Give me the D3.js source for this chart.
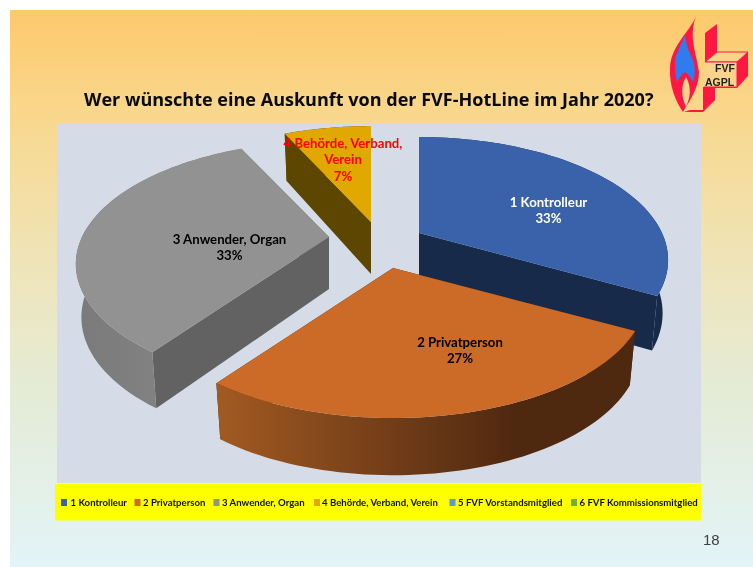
<!DOCTYPE html>
<html>
<head>
<meta charset="utf-8">
<script src="https://cdn.jsdelivr.net/npm/d3@7"></script>
<style>
  html, body { margin: 0; padding: 0; background: #fff; }
  svg { display: block; filter: blur(0.35px); }
</style>
</head>
<body>
<div id="plot"></div>
<script>
var categories = ["1 Kontrolleur", "2 Privatperson", "3 Anwender, Organ", "4 Behörde, Verband, Verein", "5 FVF Vorstandsmitglied", "6 FVF Kommissionsmitglied"];
var values = [33, 27, 33, 7, 0, 0];
var topColors = ["#3a62ab", "#cc6a28", "#929292", "#e0a800", "#5b9bd5", "#70ad47"];
var cutColors = ["#172a4a", "#4f2810", "#626262", "#5c4600", "#2f5d85", "#3f6b26"];
var wallLeft = ["#172a4a", "#a25a22", "#7a7a7a", "#5c4600", "#2f5d85", "#3f6b26"];
var wallRight = ["#172a4a", "#4f2810", "#858585", "#5c4600", "#2f5d85", "#3f6b26"];
var labelColors = ["#ffffff", "#000000", "#000000", "#ff0000"];
var labelLines = [["1 Kontrolleur"], ["2 Privatperson"], ["3 Anwender, Organ"], ["4 Behörde, Verband,", "Verein"]];
// where each exploded slice's tip and label sit on the slide
var tips = [[419, 233], [393, 268], [329, 237], [371, 222]];
var radiiX = [243, 247, 247, 243];
var labelPos = [[548.5, 207], [460, 347], [229.5, 244], [343, 148]];
var legendSwatchX = [61, 134.5, 213.5, 314, 449.5, 571];
var legendTextX = [70.5, 143, 222, 322, 458, 579.5];

var width = 753, height = 567;
var ry = 117, persp = 0.22, depth = 52;

var svg = d3.select("#plot").append("svg")
  .attr("width", width)
  .attr("height", height);

var defs = svg.append("defs");

var bg = defs.append("linearGradient").attr("id", "slideBg")
  .attr("x1", 0).attr("y1", 0).attr("x2", 0).attr("y2", 1);
[[0, "#fdc96b"], [0.2, "#f8d88f"], [0.45, "#efe4b8"], [0.7, "#e4ecd8"], [1, "#e3f4f7"]].forEach(function(s) {
  bg.append("stop").attr("offset", s[0]).attr("stop-color", s[1]);
});

svg.append("rect").attr("x", 10).attr("y", 10).attr("width", 743).attr("height", 557).attr("fill", "url(#slideBg)");
svg.append("rect").attr("x", 57).attr("y", 124).attr("width", 644).attr("height", 359).attr("fill", "#d5dce8");
svg.append("rect").attr("x", 55).attr("y", 484).attr("width", 646).attr("height", 36.5).attr("fill", "#ffff00");

svg.append("text")
  .text("Wer wünschte eine Auskunft von der FVF-HotLine im Jahr 2020?")
  .attr("x", 84).attr("y", 106)
  .attr("font-family", "'Open Sans', sans-serif")
  .attr("font-weight", 700)
  .attr("font-size", 18.05)
  .attr("fill", "#0a0a0a");

// perspective projection of the pie disc, angle 0 at twelve o'clock
function project(tip, rx, angle, drop) {
  var f = -Math.cos(angle);
  var s = 1 / (1 - persp * f);
  var shrink = 1 - 0.022 * drop / depth;
  return [
    tip[0] + rx * Math.sin(angle) * s * shrink,
    tip[1] + ry * f * s + drop * (1 + 0.1 * f)
  ];
}

var slices = d3.pie().sort(null).value(function(d) { return d; })(values).slice(0, 4);
var line = d3.line();

// orange goes on top, the rest behind it
var drawOrder = [3, 2, 0, 1];

drawOrder.forEach(function(i) {
  var d = slices[i];
  var tip = tips[i];
  var steps = d3.range(0, 61).map(function(k) { return d.startAngle + (d.endAngle - d.startAngle) * k / 60; });
  var topArc = steps.map(function(a) { return project(tip, radiiX[i], a, 0); });
  var lowArc = steps.map(function(a) { return project(tip, radiiX[i], a, depth); }).reverse();
  var tipLow = [tip[0], tip[1] + depth];

  var xs = d3.extent(topArc, function(p) { return p[0]; });
  var grad = defs.append("linearGradient").attr("id", "wall" + i)
    .attr("gradientUnits", "userSpaceOnUse")
    .attr("x1", xs[0]).attr("y1", 0).attr("x2", xs[1]).attr("y2", 0);
  grad.append("stop").attr("offset", 0).attr("stop-color", wallLeft[i]);
  grad.append("stop").attr("offset", 0.72).attr("stop-color", wallRight[i]);

  var g = svg.append("g");
  g.append("path")
    .attr("d", line([tip, topArc[0], lowArc[60], tipLow]) + "Z")
    .attr("fill", cutColors[i]);
  g.append("path")
    .attr("d", line([tip, topArc[60], lowArc[0], tipLow]) + "Z")
    .attr("fill", cutColors[i]);
  g.append("path").attr("d", line(topArc.concat(lowArc)) + "Z").attr("fill", "url(#wall" + i + ")");
  g.append("path")
    .attr("d", line([tip].concat(topArc)) + "Z")
    .attr("fill", topColors[i]);
});

slices.forEach(function(d, i) {
  var rows = labelLines[i].concat([values[i] + "%"]);
  svg.append("g").selectAll("text").data(rows).join("text")
    .text(function(t) { return t; })
    .attr("x", labelPos[i][0])
    .attr("y", function(t, k) { return labelPos[i][1] + k * 16.4; })
    .attr("text-anchor", "middle")
    .attr("font-family", "Lato, sans-serif")
    .attr("font-weight", 700)
    .attr("font-size", 13.2)
    .attr("fill", labelColors[i]);
});

categories.forEach(function(c, i) {
  svg.append("rect")
    .attr("x", legendSwatchX[i]).attr("y", 499).attr("width", 6).attr("height", 7)
    .attr("fill", topColors[i]);
  svg.append("text")
    .text(c)
    .attr("x", legendTextX[i]).attr("y", 506)
    .attr("font-family", "Lato, sans-serif")
    .attr("font-weight", 700)
    .attr("font-size", 9.6)
    .attr("fill", "#111");
});

svg.append("text").text("18")
  .attr("x", 703).attr("y", 545)
  .attr("font-family", "'Liberation Sans', sans-serif")
  .attr("font-size", 15)
  .attr("fill", "#404040");

// logo
var logo = svg.append("g");
logo.append("path")
  .attr("d", "M705 33L717 24V52H748V76L737 88H715V100L703 112H684L690 110H703V87H705Z")
  .attr("fill", "#ff1744");
logo.append("path")
  .attr("d", "M705 62L717 52H748L737 62Z")
  .attr("fill", "#f8d48a").attr("stroke", "#ff1744").attr("stroke-width", 1);
logo.append("path")
  .attr("d", "M705 62H737V87H704")
  .attr("fill", "#f8d48a").attr("stroke", "#ff1744").attr("stroke-width", 1);
logo.append("path")
  .attr("d", "M696 16C690 32 671 45 670 68C669 86 676 102 683 112C690 100 699 88 699 72C697 54 688 38 696 16Z")
  .attr("fill", "#ff1744");
logo.append("path")
  .attr("d", "M685 35C680 48 674 55 675 66C675 73 676 78 677 82C679 78 682 74 685 72C689 75 691 78 693 82C696 74 695 64 692 58C689 51 686 45 685 35Z")
  .attr("fill", "#2f7bf0");
logo.append("path")
  .attr("d", "M686 77C682 84 680 94 686 107C690 98 692 88 686 77Z")
  .attr("fill", "#f8d48a");
logo.selectAll("text").data([["FVF", 715, 72], ["AGPL", 705, 86]]).join("text")
  .text(function(d) { return d[0]; })
  .attr("x", function(d) { return d[1]; })
  .attr("y", function(d) { return d[2]; })
  .attr("font-family", "'Liberation Sans Narrow', 'Liberation Sans', sans-serif")
  .attr("font-weight", 700)
  .attr("font-size", 10.5)
  .attr("fill", "#222");
</script>
</body>
</html>
